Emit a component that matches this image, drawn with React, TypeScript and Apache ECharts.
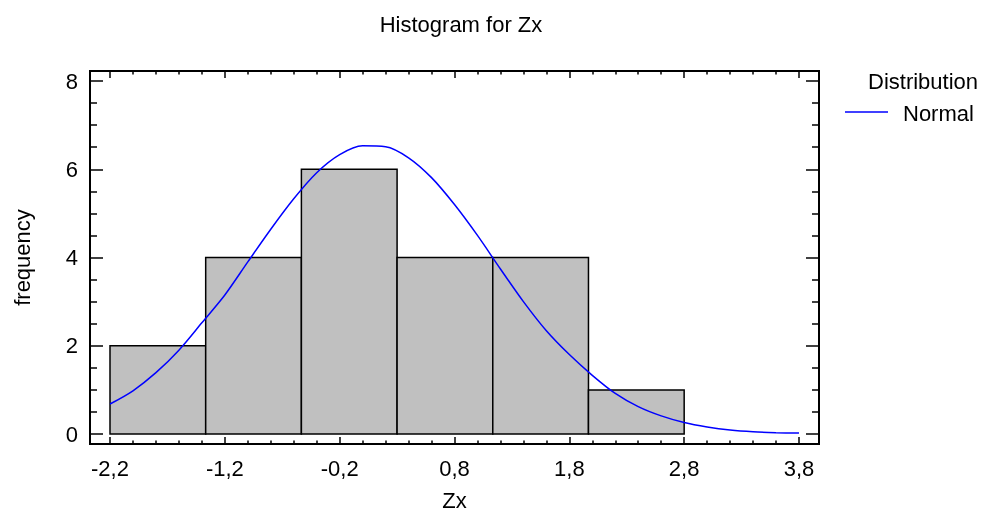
import React, { useEffect, useRef } from "react";
import * as echarts from "echarts";

// Histogram bins for Zx: class limits and observed frequencies
const binEdges = [-2.2, -1.3667, -0.5333, 0.3, 1.1333, 1.9667, 2.8];
const frequencies = [2, 4, 6, 4, 4, 1];

// Fitted normal curve, scaled to frequency
const curveX = [
  -2.2, -2.0, -1.8, -1.6, -1.4, -1.2, -1.0, -0.8, -0.6, -0.4, -0.2, 0.0, 0.2, 0.4, 0.6, 0.8,
  1.0, 1.2, 1.4, 1.6, 1.8, 2.0, 2.2, 2.4, 2.6, 2.8, 3.0, 3.2, 3.4, 3.6, 3.8,
];
const curveY = [
  0.68, 0.98, 1.39, 1.9, 2.52, 3.15, 3.9, 4.64, 5.33, 5.92, 6.33, 6.53, 6.51, 6.26, 5.81, 5.2,
  4.5, 3.74, 3.0, 2.34, 1.8, 1.33, 0.92, 0.62, 0.41, 0.26, 0.16, 0.09, 0.05, 0.03, 0.02,
];

const xTicks = [-2.2, 3.8];
const yTicks = [0, 8];

const FONT = '"Liberation Sans", Arial, sans-serif';
const FS = 22;

const fmt = (v: number) => v.toFixed(1).replace(".", ",");

export default function App() {
  const ref = useRef<HTMLDivElement>(null);

  useEffect(() => {
    if (!ref.current) return;
    const chart = echarts.init(ref.current, undefined, { renderer: "svg" });

    const bins = frequencies.map((f, i) => [binEdges[i], binEdges[i + 1], f]);
    const curve = curveX.map((x, i) => [x, curveY[i]]);

    const tick = (len: number) => ({
      show: true,
      inside: true,
      length: len,
      lineStyle: { color: "#000", width: 1.5 },
    });
    const minor = (len: number, n: number) => ({
      show: true,
      splitNumber: n,
      length: len,
      lineStyle: { color: "#000", width: 1.5 },
    });

    const xBase = {
      type: "value",
      min: xTicks[0],
      max: xTicks[1],
      interval: 1,
      offset: 10,
      axisLine: { show: false, onZero: false },
      splitLine: { show: false },
      axisTick: tick(7),
      minorTick: minor(3.5, 5),
    };
    const yBase = {
      type: "value",
      min: yTicks[0],
      max: yTicks[1],
      interval: 2,
      offset: 20,
      axisLine: { show: false, onZero: false },
      splitLine: { show: false },
      axisTick: tick(13),
      minorTick: minor(7, 4),
    };

    chart.setOption({
      animation: false,
      textStyle: { fontFamily: FONT },
      title: {
        text: "Histogram for Zx",
        left: 456,
        textAlign: "center",
        top: 8,
        textStyle: { fontFamily: FONT, fontSize: FS, fontWeight: "normal", color: "#000" },
      },
      grid: {
        left: 110,
        top: 81,
        width: 689,
        height: 353,
        containLabel: false,
        outerBoundsMode: "none",
      },
      xAxis: [
        {
          ...xBase,
          position: "bottom",
          name: "Zx",
          nameLocation: "middle",
          nameGap: 45,
          nameTextStyle: { fontFamily: FONT, fontSize: FS, color: "#000" },
          axisLabel: { fontFamily: FONT, fontSize: FS, color: "#000", margin: 13, formatter: fmt },
        },
        { ...xBase, position: "top", axisLabel: { show: false } },
      ],
      yAxis: [
        {
          ...yBase,
          position: "left",
          name: "frequency",
          nameLocation: "middle",
          nameGap: 57,
          nameTextStyle: { fontFamily: FONT, fontSize: FS, color: "#000" },
          axisLabel: { fontFamily: FONT, fontSize: FS, color: "#000", margin: 12 },
        },
        { ...yBase, position: "right", axisLabel: { show: false } },
      ],
      graphic: [
        {
          type: "rect",
          shape: { x: 90, y: 71, width: 729, height: 373 },
          style: { fill: "none", stroke: "#000", lineWidth: 2 },
          z: 100,
        },
        {
          type: "text",
          x: 868,
          y: 81,
          style: { text: "Distribution", fontFamily: FONT, fontSize: FS, fill: "#000", verticalAlign: "middle" },
        },
        {
          type: "line",
          shape: { x1: 845, y1: 112, x2: 888, y2: 112 },
          style: { stroke: "#0000ff", lineWidth: 1.5 },
        },
        {
          type: "text",
          x: 903,
          y: 113,
          style: { text: "Normal", fontFamily: FONT, fontSize: FS, fill: "#000", verticalAlign: "middle" },
        },
      ],
      series: [
        {
          type: "custom",
          xAxisIndex: 0,
          yAxisIndex: 0,
          data: bins,
          encode: { x: [0, 1], y: 2 },
          renderItem: (_params: any, api: any) => {
            const p0 = api.coord([api.value(0), api.value(2)]);
            const p1 = api.coord([api.value(1), 0]);
            return {
              type: "rect",
              shape: { x: p0[0], y: p0[1], width: p1[0] - p0[0], height: p1[1] - p0[1] },
              style: { fill: "#c0c0c0", stroke: "#000", lineWidth: 1.5 },
            };
          },
        },
        {
          type: "line",
          xAxisIndex: 0,
          yAxisIndex: 0,
          data: curve,
          smooth: 0.3,
          symbol: "none",
          lineStyle: { color: "#0000ff", width: 1.5 },
          z: 5,
        },
      ],
    });

    return () => chart.dispose();
  }, []);

  return (
    <div
      ref={ref}
      style={{ position: "fixed", left: 0, top: 0, width: 992, height: 513 }}
    />
  );
}
